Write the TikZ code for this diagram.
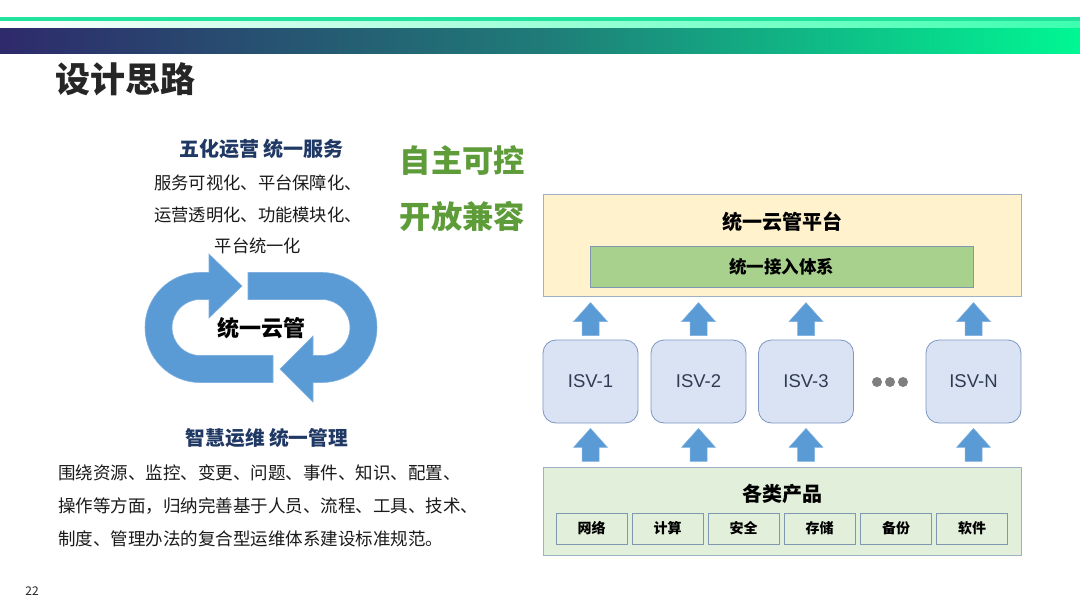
\documentclass[tikz,border=0pt]{standalone}
\usepackage{fontspec}
\setmainfont{Noto Sans CJK SC}
\newfontfamily\isvfont{Liberation Sans}
\definecolor{barL}{HTML}{2E2A6B}
\definecolor{barM}{HTML}{1F7B78}
\definecolor{barR}{HTML}{00F793}
\definecolor{topline}{HTML}{22E39E}
\definecolor{bandR}{HTML}{3DFFB0}
\definecolor{arrowblue}{HTML}{5B9BD5}
\definecolor{arrowedge}{HTML}{7FB0DF}
\definecolor{platfill}{HTML}{FFF2CC}
\definecolor{boxedge}{HTML}{9DB0C4}
\definecolor{accfill}{HTML}{A9D18E}
\definecolor{accedge}{HTML}{8097B1}
\definecolor{isvfill}{HTML}{DAE3F3}
\definecolor{isvedge}{HTML}{7C97C4}
\definecolor{isvtext}{HTML}{2F3B52}
\definecolor{prodfill}{HTML}{E2EFDA}
\definecolor{dotgray}{HTML}{7F7F7F}
\definecolor{greentext}{HTML}{5E9C3A}
\definecolor{navy}{HTML}{203864}
\definecolor{titlegray}{HTML}{262626}
\definecolor{bodytext}{HTML}{1A1A1A}
\tikzset{
  bigbox/.style={draw=boxedge, line width=1pt, minimum width=478pt, inner sep=0pt},
  isvbox/.style={draw=isvedge, fill=isvfill, line width=0.8pt, rounded corners=13pt,
    minimum width=95pt, minimum height=83pt, inner sep=0pt, text=isvtext,
    font=\isvfont\fontsize{18.5}{18.5}\selectfont},
  prodbox/.style={draw=accedge, fill=prodfill, line width=1pt, minimum width=71pt,
    minimum height=31pt, inner sep=0pt, font=\bfseries\fontsize{14}{14}\selectfont},
  ring/.style={fill=arrowblue, draw=arrowedge, line width=0.6pt},
  uparrow/.pic={\path[fill=arrowblue, draw=arrowedge, line width=0.5pt]
    (0,0) -- (17,19) -- (8.5,19) -- (8.5,33) -- (-8.5,33) -- (-8.5,19) -- (-17,19) -- cycle;},
  dot/.style={circle, fill=dotgray, minimum size=10pt, inner sep=0pt}
}
\begin{document}
\begin{tikzpicture}[x=1pt,y=-1pt]
\useasboundingbox[fill=white] (0,0) rectangle (1080,608);
% header bars
\fill[topline] (0,17) rectangle (1080,21);
\shade[left color=white, right color=bandR] (0,21) rectangle (1080,28);
\shade[left color=barL, right color=barR, middle color=barM] (0,28) rectangle (1080,53);
% title and page number
\node[font=\bfseries\fontsize{35}{35}\selectfont, text=titlegray, anchor=west, inner sep=0pt] (title) at (55,79) {设计思路};
\node[font=\fontsize{12}{12}\selectfont, text=titlegray, inner sep=0pt] (page) at (32,591) {22};
% left top texts
\node[font=\bfseries\fontsize{20}{20}\selectfont, text=navy, inner sep=0pt] (h1) at (261.5,149) {五化运营 统一服务};
\node[font=\fontsize{17.3}{31.5}\selectfont, text=bodytext, align=center, inner sep=0pt] (t1) at (258,214.5)
  {服务可视化、平台保障化、\\运营透明化、功能模块化、\\平台统一化};
% green slogans
\node[font=\bfseries\fontsize{31.3}{31.3}\selectfont, text=greentext, inner sep=0pt] (g1) at (462.5,160) {自主可控};
\node[font=\bfseries\fontsize{31.3}{31.3}\selectfont, text=greentext, inner sep=0pt] (g2) at (462.5,216) {开放兼容};
% cycle arrows
\path[ring] (209,272.5) -- (200,272.5) arc[start angle=270, end angle=90, radius=55]
  -- (273,382.5) -- (273,355.5) -- (200,355.5) arc[start angle=90, end angle=270, radius=28]
  -- (209,299.5) -- (209,318) -- (242,286) -- (209,254) -- cycle;
\path[ring] (248,272.5) -- (322,272.5) arc[start angle=270, end angle=450, radius=55]
  -- (313,382.5) -- (313,402) -- (280,369) -- (313,336) -- (313,355.5) -- (322,355.5)
  arc[start angle=90, end angle=-90, radius=28] -- (248,299.5) -- cycle;
\node[font=\bfseries\fontsize{22}{22}\selectfont, text=black, inner sep=0pt] (cyc) at (261,328) {统一云管};
% left bottom texts
\node[font=\bfseries\fontsize{19.7}{19.7}\selectfont, text=navy, inner sep=0pt] (h2) at (267,438) {智慧运维 统一管理};
\node[font=\fontsize{17.5}{33}\selectfont, text=bodytext, align=left, anchor=west, inner sep=0pt] (t2) at (58,505.5)
  {围绕资源、监控、变更、问题、事件、知识、配置、\\操作等方面，归纳完善基于人员、流程、工具、技术、\\制度、管理办法的复合型运维体系建设标准规范。};
% platform
\node[bigbox, fill=platfill, minimum height=102pt] (plat) at (782,245) {};
\node[font=\bfseries\fontsize{20}{20}\selectfont, inner sep=0pt] (plattitle) at (782,222) {统一云管平台};
\node[draw=accedge, fill=accfill, line width=1pt, minimum width=383pt, minimum height=41pt, inner sep=0pt,
  font=\bfseries\fontsize{17.5}{17.5}\selectfont] (acc) at (781.5,266.5) {统一接入体系};
% ISV boxes
\node[isvbox] (isv1) at (590.5,381.5) {ISV-1};
\node[isvbox] (isv2) at (698.5,381.5) {ISV-2};
\node[isvbox] (isv3) at (806,381.5) {ISV-3};
\node[isvbox] (isvn) at (973.5,381.5) {ISV-N};
\node[dot] (d1) at (877,382) {};
\node[dot] (d2) at (890,382) {};
\node[dot] (d3) at (903,382) {};
% arrows
\foreach \b in {isv1,isv2,isv3,isvn}{
  \pic at ([yshift=37pt]\b.north) {uparrow};
  \pic at ([yshift=-5pt]\b.south) {uparrow};
}
% products
\node[bigbox, fill=prodfill, minimum height=88pt] (prod) at (782,511) {};
\node[font=\bfseries\fontsize{20}{20}\selectfont, inner sep=0pt] (prodtitle) at (782,494) {各类产品};
\node[prodbox] (p1) at (591.5,528.5) {网络};
\node[prodbox] (p2) at (667.5,528.5) {计算};
\node[prodbox] (p3) at (743.5,528.5) {安全};
\node[prodbox] (p4) at (819.5,528.5) {存储};
\node[prodbox] (p5) at (896,528.5) {备份};
\node[prodbox] (p6) at (972,528.5) {软件};
\end{tikzpicture}
\end{document}
